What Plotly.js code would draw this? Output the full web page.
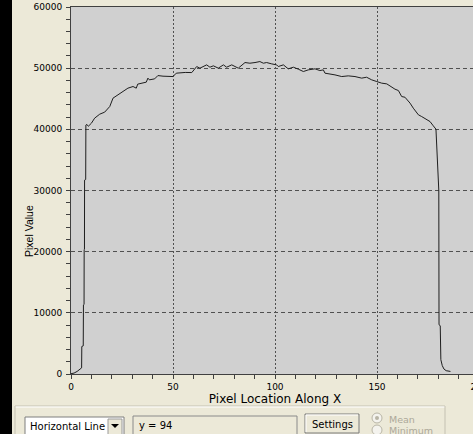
<!DOCTYPE html>
<html>
<head>
<meta charset="utf-8">
<script src="https://cdn.plot.ly/plotly-3.0.1.min.js"></script>
<style>
html,body{margin:0;padding:0;overflow:hidden;background:#ece9d8;}
#chart{width:490px;height:434px;}
</style>
</head>
<body>
<div id="chart"></div>
<script>
// ---- data ----
var xValues = [0,1.5,3,4.5,5.2,5.3,6.0,6.1,6.4,6.45,6.6,6.65,7.2,7.3,7.8,8.5,10,11.6,14.1,16.5,19,20.6,23,25.5,27.9,30.4,32,32.7,35.3,36.9,37.7,38.4,41,42.6,45.1,47.5,50,51.6,53.4,56,59.2,61.6,63.2,66.5,68.1,69.8,72.2,74.7,76.3,78.8,80.4,82,85.3,87.7,90.2,92.6,94.3,95.9,98.4,100.8,101.6,104.1,106.5,109,111.4,113.9,116.3,119.6,122,123.7,124.5,127,129.4,132.7,135.9,139.2,142.5,144.9,147.4,149.9,152.3,154.8,157.2,158.8,160.5,162.1,163.7,166.2,167.8,170.3,171.9,174.3,176,177.6,178.9,180.3,180.4,181,181.3,182,182.8,183.9,186];
var yValues = [50,150,420,800,1000,4500,4600,11300,11400,20300,20400,31700,31800,40700,40800,40500,41000,41830,42480,42810,43730,45100,45640,46290,46730,47000,46730,47390,47550,47710,48370,48090,48250,48790,48690,48630,48630,49180,49280,49300,49280,50260,50000,50540,50160,50380,50000,50540,50160,50540,50270,50000,50920,50810,50920,51080,50810,50920,50700,50540,50270,50540,49890,50160,49840,49450,49720,49890,49610,49720,49180,49070,48900,48630,48740,48630,48370,48520,48090,47810,47550,47430,46900,46570,46340,45360,45250,44280,43460,42370,42090,41550,41270,40570,40030,30000,8050,7900,2340,1370,820,540,420];
var xTickVals = [0,50,100,150,200];
var xTickText = ['0','50','100','150','200'];
var yTickVals = [0,10000,20000,30000,40000,50000,60000];
var yTickText = ['0','10000','20000','30000','40000','50000','60000'];
var xTitle = 'Pixel Location Along X';
var yTitle = 'Pixel Value';
var dropdownText = 'Horizontal Line';
var rowText = 'y = 94';
var buttonText = 'Settings';
var radioLabels = ['Mean','Minimum'];

// ---- geometry helpers (figure pixels -> paper coords) ----
var W = 490, H = 434, ML = 71, MT = 7, MR = 11, MB = 60;
var PW = W - ML - MR, PH = H - MT - MB;
function px(v){ return (v - ML) / PW; }
function py(v){ return 1 - (v - MT) / PH; }
function rect(x0,y0,x1,y1,fill,line){
  return {type:'rect', xref:'paper', yref:'paper', x0:px(x0), x1:px(x1), y0:py(y1), y1:py(y0),
          fillcolor:fill, line:{color:line||'rgba(0,0,0,0)', width:line?1:0}, layer:'above'};
}
function seg(x0,y0,x1,y1,color){
  return {type:'line', xref:'paper', yref:'paper', x0:px(x0), x1:px(x1), y0:py(y0), y1:py(y1),
          line:{color:color, width:1}, layer:'above'};
}
function label(text,x,y,opts){
  var a = {text:text, xref:'paper', yref:'paper', x:px(x), y:py(y), showarrow:false,
           xanchor:'left', yanchor:'middle', font:{family:'DejaVu Sans', size:10, color:'#000'}};
  for (var k in opts) a[k] = opts[k];
  return a;
}

var shapes = [
  rect(0,0,12,434,'#000000'),
  // group box
  seg(15,406,445,406,'#c4c1b2'), seg(15,407,445,407,'#ffffff'),
  seg(15,406,15,434,'#c4c1b2'), seg(445,406,445,434,'#c4c1b2'),
  // dropdown
  rect(25,417,124,440,'#ffffff','#7f7f7f'),
  rect(108,419,122,440,'#ece9d8','#9a9a9a'),
  {type:'path', xref:'paper', yref:'paper', path:'M '+px(111)+' '+py(424)+' L '+px(119)+' '+py(424)+' L '+px(115)+' '+py(428)+' Z',
   fillcolor:'#000', line:{width:0}, layer:'above'},
  // text field
  rect(133,416,297,440,'#ece9d8','#8a8a8a'),
  // settings button
  rect(305,414,359,433,'#ece9d8','#7a7a7a'),
  seg(306,415,358,415,'#ffffff'), seg(306,415,306,432,'#ffffff'),
  // radios
  {type:'circle', xref:'paper', yref:'paper', x0:px(372), x1:px(382), y0:py(423), y1:py(413), fillcolor:'#f4f3ee', line:{color:'#b8b5a6', width:1}, layer:'above'},
  {type:'circle', xref:'paper', yref:'paper', x0:px(375), x1:px(379), y0:py(420), y1:py(416), fillcolor:'#b8b5a6', line:{width:0}, layer:'above'},
  {type:'circle', xref:'paper', yref:'paper', x0:px(372), x1:px(382), y0:py(435), y1:py(425), fillcolor:'#f4f3ee', line:{color:'#b8b5a6', width:1}, layer:'above'}
];

var annotations = [
  label(yTitle, 29, 231, {textangle:-90, xanchor:'center', font:{family:'Liberation Sans', size:10.5, color:'#000'}}),
  label(dropdownText, 28, 426, {}),
  label(rowText, 137, 425, {}),
  label(buttonText, 332, 424, {xanchor:'center'}),
  label(radioLabels[0], 387, 419, {font:{family:'DejaVu Sans', size:9.5, color:'#aca899'}}),
  label(radioLabels[1], 387, 430, {font:{family:'DejaVu Sans', size:9.5, color:'#aca899'}})
];

var trace = {
  x: xValues, y: yValues, type:'scatter', mode:'lines',
  line:{color:'#1e1e1e', width:1}, hoverinfo:'skip'
};

var layout = {
  width: W, height: H,
  margin:{l:ML, r:MR, t:MT, b:MB, pad:0},
  paper_bgcolor:'#ece9d8', plot_bgcolor:'#d0d0d0',
  showlegend:false,
  font:{family:'DejaVu Sans', size:9, color:'#000'},
  xaxis:{
    range:[0,200], tickvals:xTickVals, ticktext:xTickText,
    ticks:'outside', ticklen:4, tickcolor:'#404040', tickwidth:1,
    showline:true, linecolor:'#404040', linewidth:1, mirror:true,
    showgrid:true, gridcolor:'#505050', gridwidth:1, griddash:'2px,2px',
    zeroline:false, tickfont:{family:'DejaVu Sans', size:9, color:'#000'},
    minor:{dtick:10, ticks:'outside', ticklen:4, tickcolor:'#404040', showgrid:false},
    title:{text:xTitle, font:{family:'DejaVu Sans', size:12, color:'#000'}, standoff:1},
    fixedrange:true
  },
  yaxis:{
    range:[0,60000], tickvals:yTickVals, ticktext:yTickText,
    ticks:'outside', ticklen:4, tickcolor:'#404040', tickwidth:1,
    showline:true, linecolor:'#404040', linewidth:1, mirror:true,
    showgrid:true, gridcolor:'#505050', gridwidth:1, griddash:'4px,3px',
    zeroline:false, tickfont:{family:'DejaVu Sans', size:9, color:'#000'},
    minor:{dtick:2000, ticks:'outside', ticklen:4, tickcolor:'#404040', showgrid:false},
    ticklabelstandoff:2,
    fixedrange:true
  },
  shapes: shapes,
  annotations: annotations
};

Plotly.newPlot('chart', [trace], layout, {displayModeBar:false, staticPlot:true});
</script>
</body>
</html>
